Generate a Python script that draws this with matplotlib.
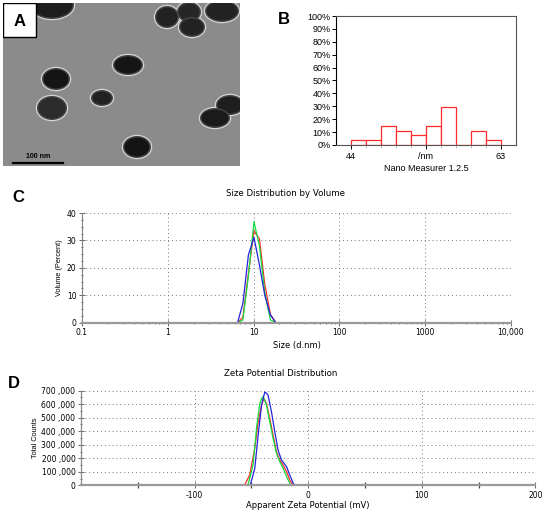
import numpy as np
import matplotlib
matplotlib.use("Agg")
import matplotlib.pyplot as plt
from matplotlib.patches import Ellipse, Rectangle
from matplotlib.ticker import MultipleLocator, FixedLocator, LogLocator, NullFormatter

plt.rcParams['font.family'] = ['Liberation Sans', 'DejaVu Sans']

# ---- panel A: TEM particles (x, y, rx, ry, shade) in image pixels
particles = [
    (52, 5, 22, 14, '#1e1e1e'),
    (167, 17, 12, 11, '#222222'),
    (189, 12, 12, 10, '#262626'),
    (192, 27, 13, 10, '#222222'),
    (222, 11, 17, 11, '#222222'),
    (128, 65, 15, 10, '#151515'),
    (56, 79, 14, 11, '#141414'),
    (102, 98, 11, 8, '#222222'),
    (52, 108, 15, 12, '#2c2c2c'),
    (137, 147, 14, 11, '#141414'),
    (230, 105, 14, 10, '#1e1e1e'),
    (215, 118, 15, 10, '#1a1a1a'),
]

# ---- panel B: particle size histogram (Nano Measurer)
hist_edges = [44.0, 45.9, 47.8, 49.7, 51.6, 53.5, 55.4, 57.3, 59.2, 61.1, 63.0]
hist_counts = [1, 1, 4, 3, 2, 4, 8, 0, 3, 1]

# ---- panel C: size distribution by volume
size_nm = [0.4, 5.6, 6.5, 7.5, 8.7, 10.1, 11.7, 13.5, 15.7, 18.2, 21.0, 10000]
vol_red = [0, 0, 0, 2, 18, 33.5, 30.5, 14, 3, 0, 0, 0]
vol_green = [0, 0, 0, 1, 17, 36.8, 28, 11, 1, 0, 0, 0]
vol_blue = [0, 0, 0, 7, 24.7, 31.1, 21, 10, 2.8, 0, 0, 0]

# ---- panel D: zeta potential (mV, counts in thousands)
zeta_red_x = [-150, -56, -51.5, -47, -44, -41, -39, -36.7, -33.8, -30.9, -27.9, -25, -22, -19, -16.2, -13.2, 150]
zeta_red_y = [0, 0, 76, 273, 470, 594, 643, 606, 495, 372, 249, 187, 150, 101, 39, 0, 0]
zeta_green_x = [-150, -53, -48.5, -45.5, -42.6, -41, -39.7, -36.7, -33.8, -30.9, -27.9, -25, -22, -19, -16.2, -14.7, 150]
zeta_green_y = [0, 0, 150, 421, 606, 640, 657, 594, 470, 347, 236, 175, 126, 64, 15, 0, 0]
zeta_blue_x = [-150, -51, -47, -44, -41, -38.2, -36.5, -35.3, -32.3, -29.4, -26.5, -23.5, -21, -19, -16.2, -13.2, -11.8, 150]
zeta_blue_y = [0, 0, 125, 372, 594, 690, 680, 667, 544, 397, 261, 187, 160, 138, 76, 15, 0, 0]

RED = '#ff2a2a'
GREEN = '#10dd40'
BLUE = '#2424d8'

W, H = 550, 511
fig = plt.figure(figsize=(5.5, 5.11), dpi=100)


def box(x0, y0, x1, y1):
    return [x0 / W, 1 - y1 / H, (x1 - x0) / W, (y1 - y0) / H]


# ---------------- A
axA = fig.add_axes(box(3, 3, 240, 166))
axA.set_xlim(3, 240)
axA.set_ylim(166, 3)
axA.set_facecolor('#8b8b8b')
axA.set_xticks([])
axA.set_yticks([])
for s in axA.spines.values():
    s.set_visible(False)
for (x, y, rx, ry, c) in particles:
    axA.add_patch(Ellipse((x, y), 2 * rx + 2.5, 2 * ry + 2.5, facecolor='#d4d4d4', edgecolor='none'))
for (x, y, rx, ry, c) in particles:
    axA.add_patch(Ellipse((x, y), 2 * rx, 2 * ry, facecolor='#454545', edgecolor='none'))
    axA.add_patch(Ellipse((x, y), 2 * rx - 3, 2 * ry - 3, facecolor=c, edgecolor='none'))
axA.add_patch(Rectangle((3, 3), 33, 34, facecolor='white', edgecolor='black', lw=1.0, zorder=5))
axA.text(19.5, 21, 'A', ha='center', va='center', fontsize=12, fontweight='bold', zorder=6)
axA.plot([13, 63], [163, 163], color='black', lw=1.6)
axA.text(38, 160, '100 nm', ha='center', va='bottom', fontsize=5, fontweight='bold', color='black')

# ---------------- B
axB = fig.add_axes(box(336, 16, 516, 145))
pct = np.array(hist_counts) / sum(hist_counts) * 100
axB.bar(hist_edges[:-1], pct, width=np.diff(hist_edges), align='edge',
        facecolor='white', edgecolor=RED, lw=0.9)
axB.set_xlim(42.1, 64.9)
axB.set_ylim(0, 100)
axB.set_yticks(range(0, 101, 10))
axB.set_yticklabels([f'{v}%' for v in range(0, 101, 10)], fontsize=6.5)
axB.set_xticks([44, 53.5, 63])
axB.set_xticklabels(['44', '/nm', '63'], fontsize=6.5)
axB.xaxis.set_minor_locator(FixedLocator(hist_edges[1:-1]))
axB.tick_params(axis='y', length=3, width=0.7, pad=1)
axB.tick_params(axis='x', which='major', length=3, width=0.7, pad=2)
axB.tick_params(axis='x', which='minor', length=2, width=0.5, color='#aaaaaa')
for s in axB.spines.values():
    s.set_color('#555555')
    s.set_linewidth(0.8)
axB.spines['left'].set_color('black')
axB.set_xlabel('Nano Measurer 1.2.5', fontsize=6.5, labelpad=2)
fig.text(284 / W, 1 - 20 / H, 'B', ha='center', va='center', fontsize=12, fontweight='bold')


def instrument_axes(ax):
    ax.grid(True, which='major', linestyle=(0, (1, 3)), color='#777777', lw=0.7)
    ax.spines['top'].set_visible(False)
    ax.spines['right'].set_visible(False)
    ax.spines['left'].set_color('#888888')
    ax.spines['left'].set_linewidth(0.9)
    ax.spines['bottom'].set_color('#999999')
    ax.spines['bottom'].set_linewidth(1.6)
    ax.tick_params(which='major', direction='inout', length=4, width=0.7, color='#666666',
                   labelsize=5.5, pad=2)
    ax.tick_params(which='minor', direction='inout', length=2, width=0.6, color='#444444')
    for lbl in ax.get_xticklabels() + ax.get_yticklabels():
        lbl.set_family('DejaVu Sans')


# ---------------- C
axC = fig.add_axes(box(82, 213, 511, 322.7))
axC.plot(size_nm, vol_red, color=RED, lw=0.9)
axC.plot(size_nm, vol_green, color=GREEN, lw=0.9)
axC.plot(size_nm, vol_blue, color=BLUE, lw=0.9)
axC.set_xscale('log')
axC.set_xlim(0.1, 10000)
axC.set_ylim(0, 40)
axC.set_xticks([0.1, 1, 10, 100, 1000, 10000])
axC.set_xticklabels(['0.1', '1', '10', '100', '1000', '10,000'])
axC.xaxis.set_minor_locator(LogLocator(base=10, subs=np.arange(2, 10), numticks=20))
axC.xaxis.set_minor_formatter(NullFormatter())
axC.set_yticks([0, 10, 20, 30, 40])
axC.yaxis.set_minor_locator(MultipleLocator(2.5))
instrument_axes(axC)
axC.set_xlabel('Size (d.nm)', fontsize=6, family='DejaVu Sans', labelpad=3)
axC.set_ylabel('Volume (Percent)', fontsize=5.3, family='Liberation Sans', labelpad=3)
fig.text(286 / W, 1 - 194 / H, 'Size Distribution by Volume', ha='center', va='center',
         fontsize=6.2, family='DejaVu Sans')
fig.text(18 / W, 1 - 198 / H, 'C', ha='center', va='center', fontsize=12, fontweight='bold')

# ---------------- D
axD = fig.add_axes(box(81, 390.7, 535.3, 485.3))
axD.plot(zeta_red_x, np.array(zeta_red_y) * 1000, color=RED, lw=0.9)
axD.plot(zeta_green_x, np.array(zeta_green_y) * 1000, color=GREEN, lw=0.9)
axD.plot(zeta_blue_x, np.array(zeta_blue_y) * 1000, color=BLUE, lw=0.9)
axD.set_xlim(-200, 200)
axD.set_ylim(0, 700000)
axD.set_xticks([-100, 0, 100, 200])
axD.set_xticklabels(['-100', '0', '100', '200'])
axD.xaxis.set_minor_locator(FixedLocator([-150, -50, 50, 150]))
yt = list(range(0, 700001, 100000))
axD.set_yticks(yt)
axD.set_yticklabels(['0'] + [f'{v // 1000} ,000' for v in yt[1:]])
axD.yaxis.set_minor_locator(MultipleLocator(50000))
instrument_axes(axD)
axD.tick_params(axis='x', which='minor', length=4, width=0.9, color='#444444')
axD.set_xlabel('Apparent Zeta Potential (mV)', fontsize=6, family='DejaVu Sans', labelpad=1)
axD.set_ylabel('Total Counts', fontsize=5.3, family='Liberation Sans', labelpad=2)
fig.text(281 / W, 1 - 373 / H, 'Zeta Potential Distribution', ha='center', va='center',
         fontsize=6.2, family='DejaVu Sans')
fig.text(14 / W, 1 - 384 / H, 'D', ha='center', va='center', fontsize=12, fontweight='bold')

fig.savefig('out.png', dpi=100)
